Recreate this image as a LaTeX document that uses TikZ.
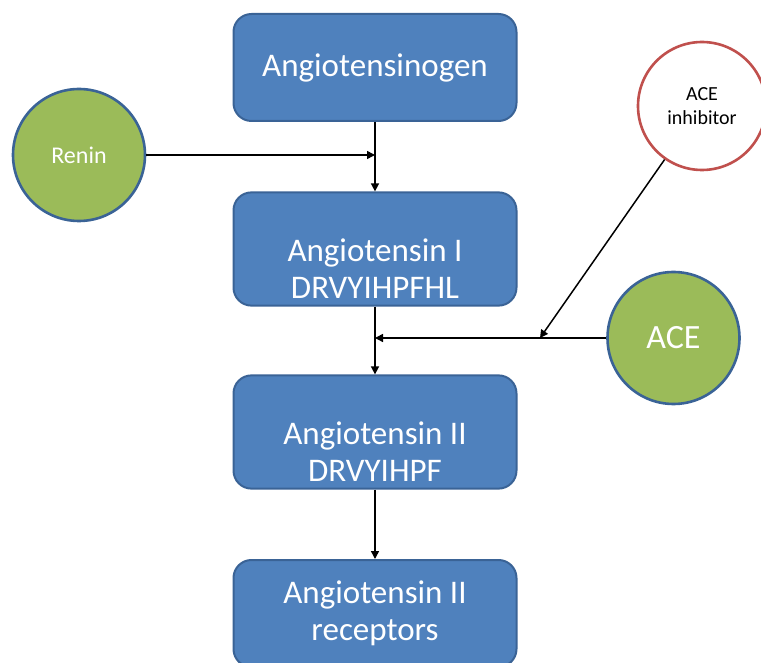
\documentclass[tikz,border=0pt]{standalone}
\usepackage{fontspec}
\setmainfont{Carlito}
\usetikzlibrary{arrows.meta, positioning, calc}
\definecolor{cbox}{HTML}{4F81BD}
\definecolor{cboxline}{HTML}{3A6396}
\definecolor{cgreen}{HTML}{9BBB59}
\definecolor{cred}{HTML}{C0504D}
\tikzset{
  every picture/.style={line width=0.75pt},
  box/.style={draw=cboxline, fill=cbox, text=white, rounded corners=9pt, align=center, minimum width=141.5pt, minimum height=53.5pt, line width=1pt, font=\fontsize{16.5}{18.5}\selectfont},
  blob/.style={circle, draw=cboxline, fill=cgreen, text=white, minimum size=66pt, inner sep=0pt, line width=1.3pt, align=center},
  arrow/.style={-{Triangle[length=4pt, width=4pt]}, draw=black},
}

\begin{document}
\begin{tikzpicture}[x=0.5pt, y=-0.5pt]
  \useasboundingbox (0,0) rectangle (761,663);
  \node[box] (agt) at (375,67.5) {Angiotensinogen};
  \node[box] (ang1) at (375,249) {\strut\\Angiotensin I\\DRVYIHPFHL};
  \node[box] (ang2) at (375,432) {\strut\\Angiotensin II\\DRVYIHPF};
  \node[box] (rec) at (375,613.5) {Angiotensin II\\receptors};
  \node[blob, font=\fontsize{12}{14}\selectfont] (renin) at (79,155) {Renin};
  \node[blob, font=\fontsize{17}{20}\selectfont] (ace) at (673.5,338) {ACE};
  \node[blob, draw=cred, fill=white, text=black, minimum size=64pt, font=\fontsize{10}{12}\selectfont] (aceinh) at (702,106) {ACE\\inhibitor};
  \coordinate (j1) at (375,155);
  \coordinate (j2) at (375,338);
  \coordinate (j3) at (540,338);
  \draw[arrow] (agt) -- (ang1);
  \draw[arrow] (ang1) -- (ang2);
  \draw[arrow] (ang2) -- (rec);
  \draw[arrow] (renin) -- (j1);
  \draw[arrow] (ace) -- (j2);
  \draw[arrow] (aceinh) -- (j3);
\end{tikzpicture}
\end{document}
